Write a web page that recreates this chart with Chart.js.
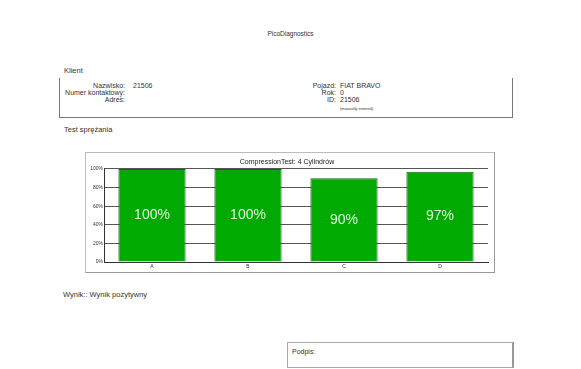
<!DOCTYPE html>
<html>
<head>
<meta charset="utf-8">
<script src="https://cdn.jsdelivr.net/npm/chart.js@4"></script>
<style>
  body { margin: 0; background: #fff; font-family: "Liberation Sans", Arial, sans-serif; color: #333; }
  .page { position: relative; width: 581px; height: 369px; overflow: hidden; }
  .t { position: absolute; white-space: nowrap; font-size: 7px; line-height: 1; }
  .r { text-align: right; }
  .h { font-size: 7.5px; }
  #klient-box { position: absolute; left: 59px; top: 78px; width: 452px; height: 39px;
    border-left: 1px solid #777; border-right: 1px solid #777; border-bottom: 1px solid #777; }
  #chart-box { position: absolute; left: 85px; top: 152px; width: 408px; height: 119px;
    border: 1px solid #bbb; border-right-color: #999; border-bottom-color: #999; }
  #sign-box { position: absolute; left: 287px; top: 342px; width: 224px; height: 24px;
    border: 1px solid #aaa; border-right: 2px solid #999; }
</style>
</head>
<body>
<div class="page">
  <div class="t" style="left:0;width:581px;text-align:center;top:31px;font-size:6.5px;">PicoDiagnostics</div>

  <div class="t h" style="left:64px;top:67px;">Klient</div>
  <div id="klient-box"></div>
  <div class="t r" style="right:456px;top:81.5px;">Nazwisko:</div>
  <div class="t" style="left:133px;top:81.5px;">21506</div>
  <div class="t r" style="right:456px;top:88.5px;">Numer kontaktowy:</div>
  <div class="t r" style="right:456px;top:96px;">Adres:</div>
  <div class="t r" style="right:245px;top:81.5px;">Pojazd:</div>
  <div class="t" style="left:340px;top:81.5px;">FIAT BRAVO</div>
  <div class="t r" style="right:245px;top:88.5px;">Rok:</div>
  <div class="t" style="left:340px;top:88.5px;">0</div>
  <div class="t r" style="right:245px;top:96px;">ID:</div>
  <div class="t" style="left:340px;top:96px;">21506</div>
  <div class="t" style="left:340px;top:107px;font-size:4px;">(manually entered)</div>

  <div class="t h" style="left:64px;top:126px;">Test sprężania</div>

  <div id="chart-box"><canvas id="c" width="408" height="119"></canvas></div>

  <div class="t h" style="left:63px;top:291px;">Wynik:: Wynik pozytywny</div>

  <div id="sign-box"></div>
  <div class="t" style="left:292px;top:347.5px;">Podpis:</div>
</div>

<script>
// dane wykresu
const chartTitle = 'CompressionTest: 4 Cylindrów';
const cylinders = ['A', 'B', 'C', 'D'];
const compression = [100, 100, 90, 97];
const yTicks = [0, 20, 40, 60, 80, 100];

// etykiety z procentami w środku słupka
const barLabels = {
    id: 'barLabels',
    afterDatasetsDraw(chart) {
        const ctx = chart.ctx;
        const meta = chart.getDatasetMeta(0);
        ctx.save();
        ctx.fillStyle = '#e2f7e2';
        ctx.font = '14px "Liberation Sans", Arial, sans-serif';
        ctx.textAlign = 'center';
        ctx.textBaseline = 'middle';
        meta.data.forEach((bar, i) => {
            const mid = (bar.y + bar.base) / 2;
            ctx.fillText(compression[i] + '%', bar.x, mid);
        });
        ctx.restore();
    }
};

new Chart(document.getElementById('c'), {
    type: 'bar',
    data: {
        labels: cylinders,
        datasets: [{
            data: compression,
            backgroundColor: '#00aa00',
            borderColor: '#1f5f1f',
            borderWidth: 1,
            barPercentage: 0.7,
            categoryPercentage: 1
        }]
    },
    options: {
        responsive: false,
        animation: false,
        layout: { padding: { left: 0, right: 6, top: 0, bottom: 0 } },
        plugins: {
            legend: { display: false },
            tooltip: { enabled: false },
            title: {
                display: true,
                text: chartTitle,
                color: '#222',
                font: { size: 7, family: '"Liberation Sans", Arial, sans-serif', weight: 'normal' },
                padding: { top: 4.5, bottom: 3 }
            }
        },
        scales: {
            y: {
                min: 0, max: 100,
                afterBuildTicks: (s) => { s.ticks = yTicks.map(v => ({ value: v })); },
                afterFit: (s) => { s.width = 18; },
                ticks: {
                    callback: v => v + '%',
                    color: '#333',
                    padding: 1,
                    font: { size: 5, family: '"Liberation Sans", Arial, sans-serif' }
                },
                grid: { color: '#555', lineWidth: 1, drawTicks: false },
                border: { color: '#333' }
            },
            x: {
                ticks: {
                    color: '#333',
                    padding: 2,
                    font: { size: 5, family: '"Liberation Sans", Arial, sans-serif' }
                },
                grid: { display: false, drawTicks: false },
                border: { color: '#333' }
            }
        }
    },
    plugins: [barLabels]
});
</script>
</body>
</html>
